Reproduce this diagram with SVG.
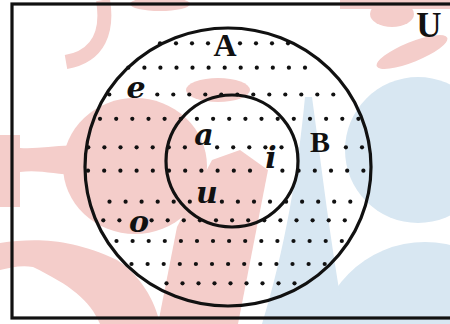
<svg xmlns="http://www.w3.org/2000/svg" width="450" height="324" viewBox="0 0 450 324">
<style>
.ln{fill:none;stroke:#111;stroke-width:3.2}
.cap{font-family:"Liberation Serif","Times New Roman",serif;font-weight:bold;fill:#111;text-anchor:middle}
.el{font-family:"DejaVu Serif","Liberation Serif",serif;font-weight:bold;font-style:italic;font-size:30px;fill:#111;text-anchor:middle}
.pk{fill:#f4cdca}
.bl{fill:#d8e7f2}
#dots circle{fill:#111}
</style>
<rect width="450" height="324" fill="#ffffff"/>
<g id="watermark">
  <path d="M103,0 C108,30 100,56 66,62" fill="none" stroke="#f4cdca" stroke-width="14"/>
  <ellipse class="pk" cx="160" cy="4" rx="30" ry="7"/>
  <rect class="pk" x="340" y="0" width="110" height="9"/>
  <ellipse class="pk" cx="392" cy="14" rx="22" ry="13"/>
  <ellipse class="pk" cx="412" cy="52" rx="38" ry="10" transform="rotate(-22 412 52)"/>
  <ellipse class="pk" cx="135" cy="166" rx="72" ry="68"/>
  <ellipse class="pk" cx="218" cy="90" rx="32" ry="12"/>
  <rect class="pk" x="0" y="135" width="20" height="72"/>
  <path class="pk" d="M20,148 C45,150 70,140 97,150 L97,172 C70,180 45,168 20,172 Z"/>
  <path class="pk" d="M158,324 L177,227 L212,160 L240,150 L268,170 L238,324 Z"/>
  <path class="pk" d="M0,243 C35,238 70,238 117,260 C140,275 155,300 160,324 L100,324 C90,300 70,285 33,267 C20,265 10,268 0,270 Z"/>
  <circle class="bl" cx="418" cy="150" r="73"/>
  <circle class="bl" cx="425" cy="350" r="108"/>
  <path class="bl" d="M305,97 L312,97 C322,170 330,240 345,324 L262,324 C285,250 298,170 305,97 Z"/>
</g>
<g id="setU">
  <rect class="ln" x="12" y="4" width="450" height="314"/>
  <text class="cap" x="429" y="37" font-size="35">U</text>
</g>
<g id="dots">
  <circle cx="160" cy="43.3" r="2.1"/><circle cx="176" cy="43.3" r="2.1"/><circle cx="192" cy="43.3" r="2.1"/><circle cx="208" cy="43.3" r="2.1"/><circle cx="240" cy="43.3" r="2.1"/><circle cx="256" cy="43.3" r="2.1"/><circle cx="272" cy="43.3" r="2.1"/><circle cx="288" cy="43.3" r="2.1"/>
  <circle cx="128.3" cy="67.7" r="2.1"/><circle cx="144.4" cy="67.7" r="2.1"/><circle cx="160.4" cy="67.7" r="2.1"/><circle cx="176.5" cy="67.7" r="2.1"/><circle cx="192.5" cy="67.7" r="2.1"/><circle cx="208.6" cy="67.7" r="2.1"/><circle cx="224.7" cy="67.7" r="2.1"/><circle cx="240.7" cy="67.7" r="2.1"/><circle cx="256.8" cy="67.7" r="2.1"/><circle cx="272.8" cy="67.7" r="2.1"/><circle cx="288.9" cy="67.7" r="2.1"/><circle cx="305" cy="67.7" r="2.1"/>
  <circle cx="109.3" cy="94.5" r="2.1"/><circle cx="157.3" cy="94.5" r="2.1"/><circle cx="173.3" cy="94.5" r="2.1"/><circle cx="189.3" cy="94.5" r="2.1"/><circle cx="205.3" cy="94.5" r="2.1"/><circle cx="221.3" cy="94.5" r="2.1"/><circle cx="237.3" cy="94.5" r="2.1"/><circle cx="253.3" cy="94.5" r="2.1"/><circle cx="269.3" cy="94.5" r="2.1"/><circle cx="285.3" cy="94.5" r="2.1"/><circle cx="301.3" cy="94.5" r="2.1"/><circle cx="317.3" cy="94.5" r="2.1"/><circle cx="333.3" cy="94.5" r="2.1"/>
  <circle cx="100" cy="118.8" r="2.1"/><circle cx="116.2" cy="118.8" r="2.1"/><circle cx="132.3" cy="118.8" r="2.1"/><circle cx="148.5" cy="118.8" r="2.1"/><circle cx="164.6" cy="118.8" r="2.1"/><circle cx="180.8" cy="118.8" r="2.1"/><circle cx="196.9" cy="118.8" r="2.1"/><circle cx="213.1" cy="118.8" r="2.1"/><circle cx="229.2" cy="118.8" r="2.1"/><circle cx="245.4" cy="118.8" r="2.1"/><circle cx="261.5" cy="118.8" r="2.1"/><circle cx="277.7" cy="118.8" r="2.1"/><circle cx="293.8" cy="118.8" r="2.1"/><circle cx="310" cy="118.8" r="2.1"/><circle cx="326.1" cy="118.8" r="2.1"/><circle cx="342.3" cy="118.8" r="2.1"/><circle cx="358.4" cy="118.8" r="2.1"/>
  <circle cx="88.3" cy="147.3" r="2.1"/><circle cx="104.4" cy="147.3" r="2.1"/><circle cx="120.5" cy="147.3" r="2.1"/><circle cx="136.6" cy="147.3" r="2.1"/><circle cx="152.7" cy="147.3" r="2.1"/><circle cx="168.8" cy="147.3" r="2.1"/><circle cx="184.9" cy="147.3" r="2.1"/><circle cx="217.1" cy="147.3" r="2.1"/><circle cx="233.2" cy="147.3" r="2.1"/><circle cx="249.3" cy="147.3" r="2.1"/><circle cx="265.4" cy="147.3" r="2.1"/><circle cx="281.5" cy="147.3" r="2.1"/><circle cx="345.9" cy="147.3" r="2.1"/><circle cx="362" cy="147.3" r="2.1"/>
  <circle cx="88" cy="170.7" r="2.1"/><circle cx="104.2" cy="170.7" r="2.1"/><circle cx="120.4" cy="170.7" r="2.1"/><circle cx="136.6" cy="170.7" r="2.1"/><circle cx="152.8" cy="170.7" r="2.1"/><circle cx="169" cy="170.7" r="2.1"/><circle cx="185.2" cy="170.7" r="2.1"/><circle cx="201.4" cy="170.7" r="2.1"/><circle cx="217.6" cy="170.7" r="2.1"/><circle cx="233.8" cy="170.7" r="2.1"/><circle cx="250" cy="170.7" r="2.1"/><circle cx="282.4" cy="170.7" r="2.1"/><circle cx="298.6" cy="170.7" r="2.1"/><circle cx="314.8" cy="170.7" r="2.1"/><circle cx="331" cy="170.7" r="2.1"/><circle cx="347.2" cy="170.7" r="2.1"/><circle cx="363.4" cy="170.7" r="2.1"/>
  <circle cx="109.5" cy="201.7" r="2.1"/><circle cx="125.6" cy="201.7" r="2.1"/><circle cx="141.6" cy="201.7" r="2.1"/><circle cx="157.7" cy="201.7" r="2.1"/><circle cx="173.7" cy="201.7" r="2.1"/><circle cx="189.8" cy="201.7" r="2.1"/><circle cx="221.9" cy="201.7" r="2.1"/><circle cx="237.9" cy="201.7" r="2.1"/><circle cx="254" cy="201.7" r="2.1"/><circle cx="270" cy="201.7" r="2.1"/><circle cx="286.1" cy="201.7" r="2.1"/><circle cx="302.1" cy="201.7" r="2.1"/><circle cx="318.2" cy="201.7" r="2.1"/><circle cx="334.2" cy="201.7" r="2.1"/><circle cx="350.3" cy="201.7" r="2.1"/>
  <circle cx="103.3" cy="220.3" r="2.1"/><circle cx="119.4" cy="220.3" r="2.1"/><circle cx="151.6" cy="220.3" r="2.1"/><circle cx="167.7" cy="220.3" r="2.1"/><circle cx="183.8" cy="220.3" r="2.1"/><circle cx="199.9" cy="220.3" r="2.1"/><circle cx="216" cy="220.3" r="2.1"/><circle cx="232.1" cy="220.3" r="2.1"/><circle cx="248.2" cy="220.3" r="2.1"/><circle cx="264.3" cy="220.3" r="2.1"/><circle cx="280.4" cy="220.3" r="2.1"/><circle cx="296.5" cy="220.3" r="2.1"/><circle cx="312.6" cy="220.3" r="2.1"/><circle cx="328.7" cy="220.3" r="2.1"/><circle cx="344.8" cy="220.3" r="2.1"/>
  <circle cx="116.5" cy="241" r="2.1"/><circle cx="132.6" cy="241" r="2.1"/><circle cx="148.7" cy="241" r="2.1"/><circle cx="164.8" cy="241" r="2.1"/><circle cx="180.9" cy="241" r="2.1"/><circle cx="197" cy="241" r="2.1"/><circle cx="213" cy="241" r="2.1"/><circle cx="229.1" cy="241" r="2.1"/><circle cx="245.2" cy="241" r="2.1"/><circle cx="261.3" cy="241" r="2.1"/><circle cx="277.4" cy="241" r="2.1"/><circle cx="293.5" cy="241" r="2.1"/><circle cx="309.6" cy="241" r="2.1"/><circle cx="325.7" cy="241" r="2.1"/><circle cx="341.8" cy="241" r="2.1"/>
  <circle cx="131.5" cy="264" r="2.1"/><circle cx="147.6" cy="264" r="2.1"/><circle cx="163.7" cy="264" r="2.1"/><circle cx="179.8" cy="264" r="2.1"/><circle cx="195.9" cy="264" r="2.1"/><circle cx="212" cy="264" r="2.1"/><circle cx="228.1" cy="264" r="2.1"/><circle cx="244.2" cy="264" r="2.1"/><circle cx="260.3" cy="264" r="2.1"/><circle cx="276.4" cy="264" r="2.1"/><circle cx="292.5" cy="264" r="2.1"/><circle cx="308.6" cy="264" r="2.1"/><circle cx="324.7" cy="264" r="2.1"/>
  <circle cx="166.5" cy="283.3" r="2.1"/><circle cx="182.5" cy="283.3" r="2.1"/><circle cx="198.5" cy="283.3" r="2.1"/><circle cx="214.5" cy="283.3" r="2.1"/><circle cx="230.5" cy="283.3" r="2.1"/><circle cx="246.5" cy="283.3" r="2.1"/><circle cx="262.5" cy="283.3" r="2.1"/><circle cx="278.5" cy="283.3" r="2.1"/><circle cx="294.5" cy="283.3" r="2.1"/>
</g>
<g id="setA">
  <ellipse class="ln" cx="228" cy="167" rx="143" ry="139"/>
  <text class="cap" x="225" y="56" font-size="32">A</text>
</g>
<g id="setB">
  <circle class="ln" cx="232" cy="161" r="66"/>
  <text class="cap" x="320" y="152" font-size="30">B</text>
</g>
<g id="elements">
  <text class="el" x="136" y="98">e</text>
  <text class="el" x="204" y="145">a</text>
  <text class="el" x="271" y="168">i</text>
  <text class="el" x="207" y="203">u</text>
  <text class="el" x="139" y="232">o</text>
</g>
</svg>
